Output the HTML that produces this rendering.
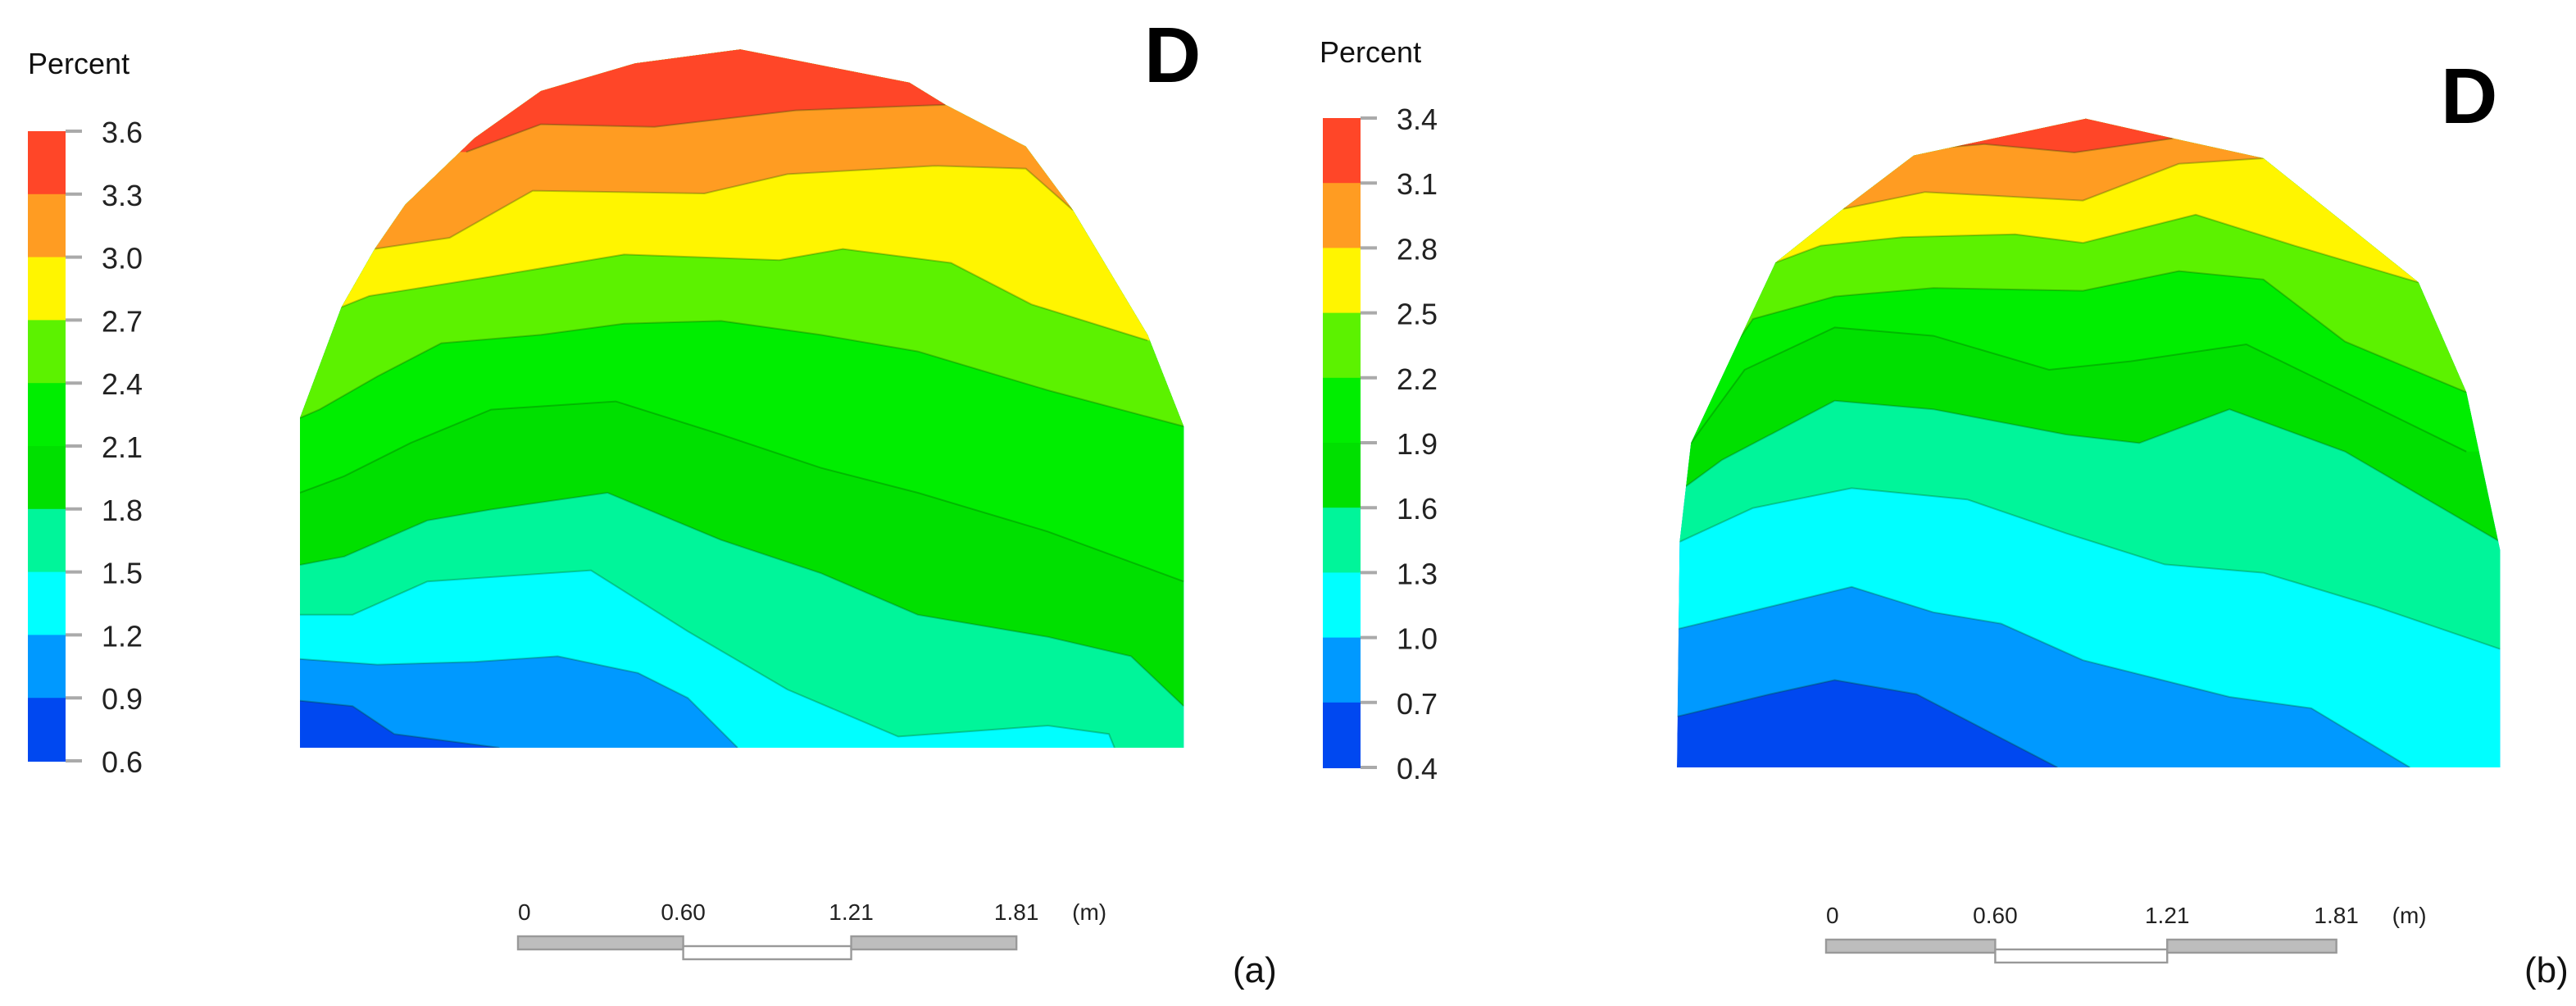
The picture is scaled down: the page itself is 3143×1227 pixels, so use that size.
<!DOCTYPE html>
<html><head><meta charset="utf-8">
<style>
html,body{margin:0;padding:0;background:#fff;overflow:hidden;}
svg{display:block;font-family:"Liberation Sans",sans-serif;}
</style></head>
<body>
<svg id="fig" width="3143" height="1227" viewBox="0 0 1571.5 613.5" preserveAspectRatio="none" xmlns="http://www.w3.org/2000/svg">
<rect width="1571.5" height="613.5" fill="#fff"/>
<g id="pa"></g>
<g id="pb"></g>
</svg>
<script>
// ---- Panel (a) data: metres (x across, h height) ----
const colorsA = ["#0048f0","#0099ff","#00ffff","#00f59a","#00e000","#00ee00","#5cf200","#fff500","#ff9c22","#ff4628"];
const ticksA = ["3.6","3.3","3.0","2.7","2.4","2.1","1.8","1.5","1.2","0.9","0.6"];
const outlineA = [[0,0],[0,1.19],[0.15,1.59],[0.27,1.80],[0.38,1.96],[0.63,2.20],[0.87,2.37],[1.21,2.47],[1.59,2.52],[2.20,2.40],[2.33,2.32],[2.62,2.17],[2.79,1.94],[3.06,1.49],[3.19,1.16],[3.19,0]];
const levA09 = [[0,0.17],[0.19,0.15],[0.34,0.05],[0.72,0]];
const levA12 = [[0,0.32],[0.28,0.30],[0.63,0.31],[0.93,0.33],[1.22,0.27],[1.40,0.18],[1.58,0]];
const levA15 = [[0,0.48],[0.19,0.48],[0.46,0.60],[1.05,0.64],[1.40,0.42],[1.76,0.21],[2.16,0.04],[2.70,0.08],[2.92,0.05],[2.94,0]];
const levA18 = [[0,0.66],[0.16,0.69],[0.46,0.82],[0.69,0.86],[1.11,0.92],[1.52,0.75],[1.88,0.63],[2.23,0.48],[2.70,0.40],[3.0,0.33],[3.19,0.15]];
const levA21 = [[0,0.92],[0.16,0.98],[0.40,1.10],[0.69,1.22],[1.14,1.25],[1.52,1.13],[1.88,1.01],[2.23,0.92],[2.70,0.78],[3.19,0.60]];
const levA24 = [[0,1.19],[0.07,1.22],[0.28,1.34],[0.51,1.46],[0.87,1.49],[1.17,1.53],[1.52,1.54],[1.88,1.49],[2.23,1.43],[2.70,1.29],[3.19,1.16]];
const levA27 = [[0.15,1.59],[0.25,1.63],[0.69,1.70],[1.17,1.78],[1.73,1.76],[1.96,1.80],[2.35,1.75],[2.64,1.60],[3.06,1.47]];
const levA30 = [[0.27,1.80],[0.54,1.84],[0.84,2.01],[1.46,2.00],[1.76,2.07],[2.29,2.10],[2.62,2.09],[2.79,1.94]];
const levA33 = [[0.60,2.15],[0.87,2.25],[1.28,2.24],[1.79,2.30],[2.33,2.32]];
const levelsA = [levA09,levA12,levA15,levA18,levA21,levA24,levA27,levA30,levA33];
const scaleLabelsA = ["0","0.60","1.21","1.81"];
const scaleValsA = [0,0.60,1.21,1.81];

// ---- Panel (b) data ----
const colorsB = ["#0048f0","#0099ff","#00ffff","#00f59a","#00e000","#00ee00","#5cf200","#fff500","#ff9c22","#ff4628"];
const ticksB = ["3.4","3.1","2.8","2.5","2.2","1.9","1.6","1.3","1.0","0.7","0.4"];
const outlineB = [[0,0],[0.01,0.80],[0.05,1.15],[0.35,1.79],[0.59,1.98],[0.84,2.17],[1.45,2.30],[1.76,2.23],[2.08,2.16],[2.63,1.72],[2.80,1.33],[2.92,0.77],[2.92,0]];
const levB07 = [[0,0.18],[0.33,0.26],[0.56,0.31],[0.85,0.26],[1.35,0]];
const levB10 = [[0,0.49],[0.33,0.57],[0.62,0.64],[0.91,0.55],[1.15,0.51],[1.44,0.38],[1.96,0.25],[2.25,0.21],[2.60,0]];
const levB13 = [[0.01,0.80],[0.27,0.92],[0.62,0.99],[1.03,0.95],[1.38,0.83],[1.73,0.72],[2.08,0.69],[2.48,0.57],[2.92,0.42]];
const levB16 = [[0.01,0.98],[0.16,1.09],[0.56,1.30],[0.91,1.27],[1.38,1.18],[1.64,1.15],[1.96,1.27],[2.37,1.12],[2.92,0.80]];
const levB19 = [[0.05,1.15],[0.24,1.41],[0.56,1.56],[0.91,1.53],[1.32,1.41],[1.61,1.44],[2.02,1.50],[2.37,1.33],[2.80,1.12]];
const levB22 = [[0.16,1.43],[0.27,1.59],[0.56,1.67],[0.91,1.70],[1.44,1.69],[1.78,1.76],[2.08,1.73],[2.37,1.51],[2.80,1.33]];
const levB25 = [[0.35,1.79],[0.51,1.85],[0.80,1.88],[1.20,1.89],[1.44,1.86],[1.84,1.96],[2.19,1.85],[2.63,1.72]];
const levB28 = [[0.59,1.98],[0.88,2.04],[1.44,2.01],[1.78,2.14],[2.08,2.16]];
const levB31 = [[0.97,2.20],[1.09,2.21],[1.41,2.18],[1.76,2.23]];
const levelsB = [levB07,levB10,levB13,levB16,levB19,levB22,levB25,levB28,levB31];
const scaleLabelsB = ["0","0.60","1.21","1.81"];
const scaleValsB = [0,0.60,1.21,1.81];

const NS="http://www.w3.org/2000/svg";
function mk(tag,attrs,parent){const e=document.createElementNS(NS,tag);for(const k in attrs)e.setAttribute(k,attrs[k]);parent.appendChild(e);return e;}

function drawPanel(g,id,cfg){
  const sx=m=>cfg.x0+m*cfg.k, sy=h=>cfg.base-h*cfg.k;
  const pts=a=>a.map(p=>sx(p[0]).toFixed(1)+","+sy(p[1]).toFixed(1)).join(" ");
  const defs=mk("defs",{},g);
  const cp=mk("clipPath",{id:"clip"+id},defs);
  mk("polygon",{points:pts(cfg.outline)},cp);
  const cg=mk("g",{"clip-path":"url(#clip"+id+")"},g);
  const base=mk("polygon",{points:pts(cfg.outline),fill:cfg.colors[0]},cg);
  
  
  cfg.levels.forEach((lv,i)=>{
    const first=lv[0], last=lv[lv.length-1];
    const P=[[sx(first[0])-400,sy(first[1])]];
    lv.forEach(p=>P.push([sx(p[0]),sy(p[1])]));
    if(last[1]<=0.001) P.push([sx(last[0])+500,cfg.base+60]); else P.push([sx(last[0])+400,sy(last[1])]);
    P.push([sx(last[0])+500,-200]);P.push([sx(first[0])-400,-200]);
    const band=mk("polygon",{points:P.map(p=>p[0].toFixed(1)+","+p[1].toFixed(1)).join(" "),fill:cfg.colors[i+1]},cg);
    
    
  });
  cfg.levels.forEach((lv,i)=>{
    const ln=mk("polyline",{points:pts(lv),fill:"none",stroke:"rgba(0,70,0,0.28)","stroke-width":1},cg);
    
    
  });
  // legend
  const L=cfg.legend; const n=cfg.colors.length; const bh=(L.y1-L.y0)/n;
  const t=mk("text",{x:L.tx,y:L.ty,"font-size":18,fill:"#111"},g); t.textContent="Percent";
  
  
  for(let j=0;j<n;j++){
    const r=mk("rect",{x:L.x,y:L.y0+j*bh,width:23,height:bh+0.5,fill:cfg.colors[n-1-j]},g);
    
    
  }
  cfg.ticks.forEach((tk,j)=>{
    const y=L.y0+j*bh;
    mk("line",{x1:L.x+23,x2:L.x+33,y1:y,y2:y,stroke:"#aaa","stroke-width":2},g);
    const tt=mk("text",{x:L.x+45,y:y+7,"font-size":18,fill:"#222"},g); tt.textContent=tk;
    
    
  });
  // D label
  const D=mk("text",{x:cfg.D[0],y:cfg.D[1],"font-size":48,"font-weight":"bold",fill:"#000"},g); D.textContent="D";
  
  
  // scale bar
  const S=cfg.scale; const bx=m=>S.x0+m*S.k;
  const vals=cfg.scaleVals;
  for(let j=0;j<vals.length-1;j++){
    const up=(j%2===0);
    const r=mk("rect",{x:bx(vals[j]),y:up?S.y:S.y+6,width:bx(vals[j+1])-bx(vals[j]),height:8,fill:up?"#bdbdbd":"#fff",stroke:"#999","stroke-width":1.2},g);
    
    
  }
  vals.forEach((v,j)=>{
    const tt=mk("text",{x:bx(v),y:S.y-10,"font-size":14,fill:"#222","text-anchor":j===0?"start":"middle"},g);
    tt.textContent=cfg.scaleLabels[j];
    
    
  });
  const u=mk("text",{x:bx(vals[vals.length-1])+34,y:S.y-10,"font-size":14,fill:"#222"},g); u.textContent="(m)";
  
  
  const pl=mk("text",{x:cfg.tag[0],y:cfg.tag[1],"font-size":22,fill:"#111"},g); pl.textContent=cfg.tagText;
  
  
}

drawPanel(document.getElementById("pa"),"a",{x0:183,base:456,k:169,outline:outlineA,levels:levelsA,colors:colorsA,ticks:ticksA,
  legend:{x:17,y0:80,y1:464,tx:17,ty:45},D:[698,50],scale:{x0:316,k:168,y:571},scaleVals:scaleValsA,scaleLabels:scaleLabelsA,tag:[752,599],tagText:"(a)"});
drawPanel(document.getElementById("pb"),"b",{x0:1023,base:468,k:172,outline:outlineB,levels:levelsB,colors:colorsB,ticks:ticksB,
  legend:{x:807,y0:72,y1:468,tx:805,ty:38},D:[1489,75],scale:{x0:1114,k:172,y:573},scaleVals:scaleValsB,scaleLabels:scaleLabelsB,tag:[1540,599],tagText:"(b)"});
</script>
</body></html>
